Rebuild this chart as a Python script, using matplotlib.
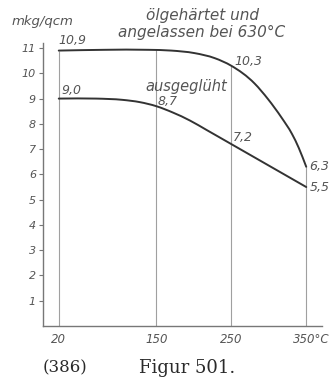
import matplotlib
matplotlib.use("Agg")
import matplotlib.pyplot as plt
import matplotlib.transforms as mtransforms
from matplotlib.path import Path
from matplotlib.patches import PathPatch
import numpy as np

# Notch toughness (mkg/qcm) against test temperature (°C)
temps_hardened = [20, 80, 140, 170, 201, 228, 250, 281, 299, 317, 331, 340, 350]
tough_hardened = [10.9, 10.93, 10.93, 10.9, 10.8, 10.6, 10.3, 9.6, 8.98, 8.25,
                  7.6, 7.05, 6.3]

temps_annealed = [20, 70, 105, 128, 150, 172, 195, 217, 250, 300, 350]
tough_annealed = [9.0, 9.0, 8.95, 8.86, 8.7, 8.45, 8.13, 7.76, 7.2, 6.35, 5.5]

# values written next to the curves
marked_temps_hardened = [20, 250, 350]
marked_vals_hardened = [10.9, 10.3, 6.3]
marked_temps_annealed = [20, 150, 250, 350]
marked_vals_annealed = [9.0, 8.7, 7.2, 5.5]

grid_temps = [20, 150, 250, 350]
x_tick_labels = ["20", "150", "250", "350°C"]
y_ticks = list(range(1, 12))

label_hardened = "ölgehärtet und\nangelassen bei 630°C"
label_annealed = "ausgeglüht"
unit_label = "mkg/qcm"


def smooth_path(xs, ys):
    """Cubic Hermite curve through the points, drawn as Bezier segments."""
    x = np.asarray(xs, float)
    y = np.asarray(ys, float)
    h = np.diff(x)
    d = np.diff(y) / h
    m = np.empty_like(y)
    m[0], m[-1] = d[0], d[-1]
    m[1:-1] = (h[:-1] * d[1:] + h[1:] * d[:-1]) / (h[:-1] + h[1:])
    verts = [(x[0], y[0])]
    codes = [Path.MOVETO]
    for i in range(len(x) - 1):
        verts += [(x[i] + h[i] / 3, y[i] + m[i] * h[i] / 3),
                  (x[i + 1] - h[i] / 3, y[i + 1] - m[i + 1] * h[i] / 3),
                  (x[i + 1], y[i + 1])]
        codes += [Path.CURVE4] * 3
    return Path(verts, codes)


W, H = 336, 383
fig = plt.figure(figsize=(W / 100, H / 100), dpi=100)
fig.patch.set_facecolor("white")
ax = fig.add_axes([43 / W, 1 - 326 / H, 279 / W, 283 / H])
ax.set_xlim(-1, 371)
ax.set_ylim(0, 11.2)

text_col = "#555555"
line_col = "#333333"
grid_col = "#a0a0a0"
font = dict(family="DejaVu Sans", style="italic", color=text_col)

for s in ["top", "right"]:
    ax.spines[s].set_visible(False)
for s in ["left", "bottom"]:
    ax.spines[s].set_color("#777777")
    ax.spines[s].set_linewidth(1.0)

# vertical guide lines up to the upper curve
for t in grid_temps:
    top = float(np.interp(t, temps_hardened, tough_hardened))
    ax.vlines(t, 0, top, color=grid_col, lw=0.8, zorder=1)

for xs, ys in [(temps_hardened, tough_hardened), (temps_annealed, tough_annealed)]:
    ax.add_patch(PathPatch(smooth_path(xs, ys), facecolor="none",
                           edgecolor=line_col, lw=1.4, zorder=3,
                           capstyle="round"))

ax.set_yticks(y_ticks)
ax.set_yticklabels([str(v) for v in y_ticks], **font, fontsize=8)
ax.tick_params(axis="y", direction="out", length=3, width=0.8,
               color="#777777", pad=2)
ax.set_xticks(grid_temps)
ax.set_xticklabels(x_tick_labels, **font, fontsize=8.5)
ax.tick_params(axis="x", length=0, pad=5)
last = ax.get_xticklabels()[-1]
last.set_transform(last.get_transform() +
                   mtransforms.ScaledTranslation(5.5 / 100, 0, fig.dpi_scale_trans))


def fmt(v):
    return f"{v:.1f}".replace(".", ",")


offsets_h = [((0, 4), "left", "bottom"), ((3, 4), "left", "center"),
             ((3, 0), "left", "center")]
for t, v, (off, ha, va) in zip(marked_temps_hardened, marked_vals_hardened, offsets_h):
    ax.annotate(fmt(v), (t, v), xytext=off, textcoords="offset pixels",
                ha=ha, va=va, fontsize=9, **font)

offsets_a = [((3, 2), "left", "bottom"), ((1, -2), "left", "bottom"),
             ((2, 0), "left", "bottom"), ((3, 0), "left", "center")]
for t, v, (off, ha, va) in zip(marked_temps_annealed, marked_vals_annealed, offsets_a):
    ax.annotate(fmt(v), (t, v), xytext=off, textcoords="offset pixels",
                ha=ha, va=va, fontsize=9, **font)

fig.text(202 / W, 1 - 24 / H, label_hardened, ha="center", va="center",
         fontsize=11, linespacing=1.1, **font)
fig.text(186 / W, 1 - 87 / H, label_annealed, ha="center", va="center",
         fontsize=10.5, **font)
fig.text(42 / W, 1 - 22 / H, unit_label, ha="center", va="center",
         fontsize=9.5, **font)

serif = dict(family="DejaVu Serif", color="#2a2a2a")
fig.text(65 / W, 1 - 368 / H, "(386)", ha="center", va="center",
         fontsize=12, **serif)
fig.text(187 / W, 1 - 368 / H, "Figur 501.", ha="center", va="center",
         fontsize=13, **serif)

fig.savefig("out.png", dpi=100, facecolor="white")
